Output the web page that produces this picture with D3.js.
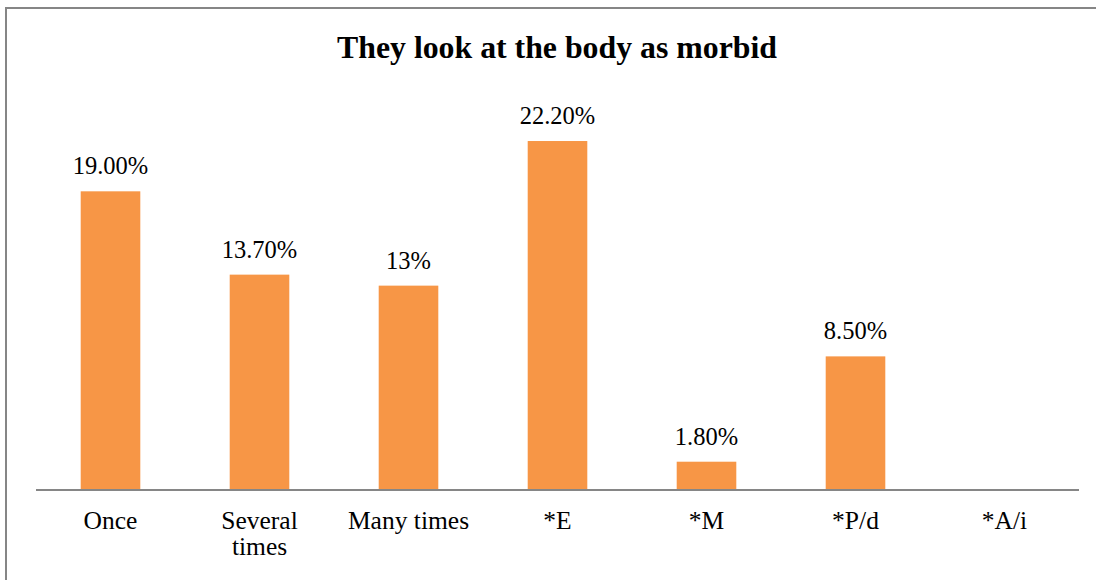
<!DOCTYPE html>
<html>
<head>
<meta charset="utf-8">
<script src="https://cdn.jsdelivr.net/npm/d3@7"></script>
<style>
  body { margin: 0; background: #fff; }
  svg text { font-family: "Liberation Serif", "DejaVu Serif", serif; }
</style>
</head>
<body>
<div id="chart"></div>
<script>
const categories = ['Once', 'Several times', 'Many times', '*E', '*M', '*P/d', '*A/i'];
const values = [19.0, 13.7, 13, 22.2, 1.8, 8.5, 0];
const valueLabels = ['19.00%', '13.70%', '13%', '22.20%', '1.80%', '8.50%', ''];
const yDomain = [0, 25];

const width = 1096,
  height = 580;

const margin = { left: 36, right: 17, top: 97, bottom: 90 };
const serif = 'Liberation Serif';

const svg = d3.select('#chart')
  .append('svg')
  .attr('width', width)
  .attr('height', height)
  .style('display', 'block');

// chart frame (runs off the right and bottom edges)
svg.append('rect')
  .attr('x', 6)
  .attr('y', 8)
  .attr('width', width + 20)
  .attr('height', height + 20)
  .attr('fill', '#fff')
  .attr('stroke', '#868686')
  .attr('stroke-width', 2);

svg.append('text')
  .attr('x', 557)
  .attr('y', 58)
  .attr('text-anchor', 'middle')
  .attr('font-family', serif)
  .attr('font-size', 31.8)
  .attr('font-weight', 'bold')
  .attr('fill', '#000')
  .text('They look at the body as morbid');

const x = d3.scaleBand()
  .domain(categories)
  .range([margin.left, width - margin.right])
  .paddingInner(0.6)
  .paddingOuter(0.3);

const y = d3.scaleLinear()
  .domain(yDomain)
  .range([height - margin.bottom, margin.top]);

const data = categories.map((c, i) => ({ cat: c, value: values[i], label: valueLabels[i] }));

svg.selectAll('rect.bar')
  .data(data)
  .enter()
  .append('rect')
  .attr('class', 'bar')
  .attr('x', d => x(d.cat))
  .attr('y', d => y(d.value))
  .attr('width', x.bandwidth())
  .attr('height', d => y(0) - y(d.value))
  .attr('fill', '#F79646');

svg.selectAll('text.val')
  .data(data.filter(d => d.label))
  .enter()
  .append('text')
  .attr('class', 'val')
  .attr('x', d => x(d.cat) + x.bandwidth() / 2)
  .attr('y', d => y(d.value) - 17)
  .attr('text-anchor', 'middle')
  .attr('font-family', serif)
  .attr('font-size', 24.5)
  .attr('fill', '#000')
  .text(d => d.label);

// baseline
svg.append('line')
  .attr('x1', margin.left)
  .attr('x2', width - margin.right)
  .attr('y1', y(0))
  .attr('y2', y(0))
  .attr('stroke', '#868686')
  .attr('stroke-width', 2);

// category labels, wrapped like the original
const wrapWidth = 132;
const catText = svg.selectAll('text.cat')
  .data(categories)
  .enter()
  .append('text')
  .attr('class', 'cat')
  .attr('text-anchor', 'middle')
  .attr('font-family', serif)
  .attr('font-size', 25.5)
  .attr('fill', '#000')
  .attr('y', y(0) + 39);

catText.each(function (c) {
  const t = d3.select(this);
  const cx = x(c) + x.bandwidth() / 2;
  const words = c.split(' ');
  let lines = [];
  let line = [];
  words.forEach(w => {
    line.push(w);
    const tmp = t.append('tspan').text(line.join(' '));
    const w2 = tmp.node().getComputedTextLength();
    tmp.remove();
    if (w2 > wrapWidth && line.length > 1) {
      line.pop();
      lines.push(line.join(' '));
      line = [w];
    }
  });
  lines.push(line.join(' '));
  lines.forEach((l, i) => {
    t.append('tspan')
      .attr('x', cx)
      .attr('dy', i === 0 ? 0 : 26)
      .text(l);
  });
});
</script>
</body>
</html>
